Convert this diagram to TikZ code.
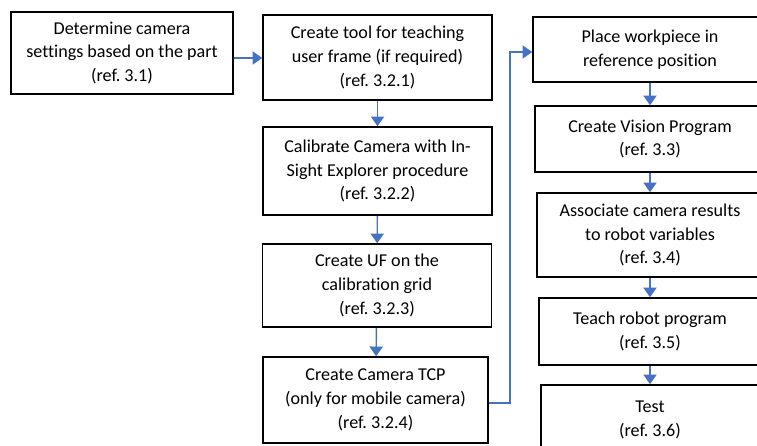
\documentclass[tikz,border=0pt]{standalone}
\usepackage{fontspec}
\setmainfont{Carlito}[Ligatures=NoCommon]
\usepackage{xcolor}
\usepackage{tikz}
\usetikzlibrary{positioning, arrows.meta}

\definecolor{flowblue}{RGB}{68,114,196}
\frenchspacing

\begin{document}
\begin{tikzpicture}[x=0.02cm, y=-0.02cm]
    \tikzset{
        stepbox/.style={
                draw=black, line width=0.9pt, fill=white, align=center, inner sep=0pt,
                font=\fontsize{10.3}{13.6}\selectfont
            },
        flow/.style={
                -{Triangle[width=7.5pt, length=5.5pt]}, draw=flowblue, line width=0.8pt
            }
    }

    \useasboundingbox (0,0) rectangle (757,446);
    \clip (0,0) rectangle (757,446);

    % first step on its own
    \node[stepbox, minimum width=4.44cm, minimum height=1.64cm] (settings) at (122,53)
        {Determine camera\\settings based on the part\\(ref. 3.1)};

    % calibration column
    \node[stepbox, minimum width=4.58cm, minimum height=1.70cm] (tool) at (377.5,57.5)
        {Create tool for teaching\\user frame (if required)\\(ref. 3.2.1)};
    \node[stepbox, minimum width=4.58cm, minimum height=1.76cm] (calib) at (377.5,171)
        {Calibrate Camera with In-\\Sight Explorer procedure\\(ref. 3.2.2)};
    \node[stepbox, minimum width=4.58cm, minimum height=1.66cm] (uf) at (377,285.5)
        {Create UF on the\\calibration grid\\(ref. 3.2.3)};
    \node[stepbox, minimum width=4.50cm, minimum height=1.72cm] (tcp) at (375.5,400)
        {Create Camera TCP\\(only for mobile camera)\\(ref. 3.2.4)};

    % vision and robot column
    \node[stepbox, minimum width=4.68cm, minimum height=1.30cm] (place) at (650,49.5)
        {Place workpiece in\\reference position};
    \node[stepbox, minimum width=4.60cm, minimum height=1.32cm] (vision) at (650,139)
        {Create Vision Program\\(ref. 3.3)};
    \node[stepbox, minimum width=4.52cm, minimum height=1.68cm] (assoc) at (650,235)
        {Associate camera results\\to robot variables\\(ref. 3.4)};
    \node[stepbox, minimum width=4.44cm, minimum height=1.34cm] (teach) at (650,331.5)
        {Teach robot program\\(ref. 3.5)};
    \node[stepbox, minimum width=4.36cm, minimum height=1.40cm] (test) at (650,420)
        {Test\\(ref. 3.6)};

    \draw[flow] (settings.east |- 0,58) -- (tool.west |- 0,58);
    \draw[flow] (tool) -- (calib);
    \draw[flow] (calib) -- (uf);
    \draw[flow] (uf) -- (tcp);
    % jump over to the next column
    \draw[flow] (tcp.east |- 0,403) -| (510,52) -- (place.west |- 0,52);
    \draw[flow] (place) -- (vision);
    \draw[flow] (vision) -- (assoc);
    \draw[flow] (assoc) -- (teach);
    \draw[flow] (teach) -- (test);
\end{tikzpicture}
\end{document}
